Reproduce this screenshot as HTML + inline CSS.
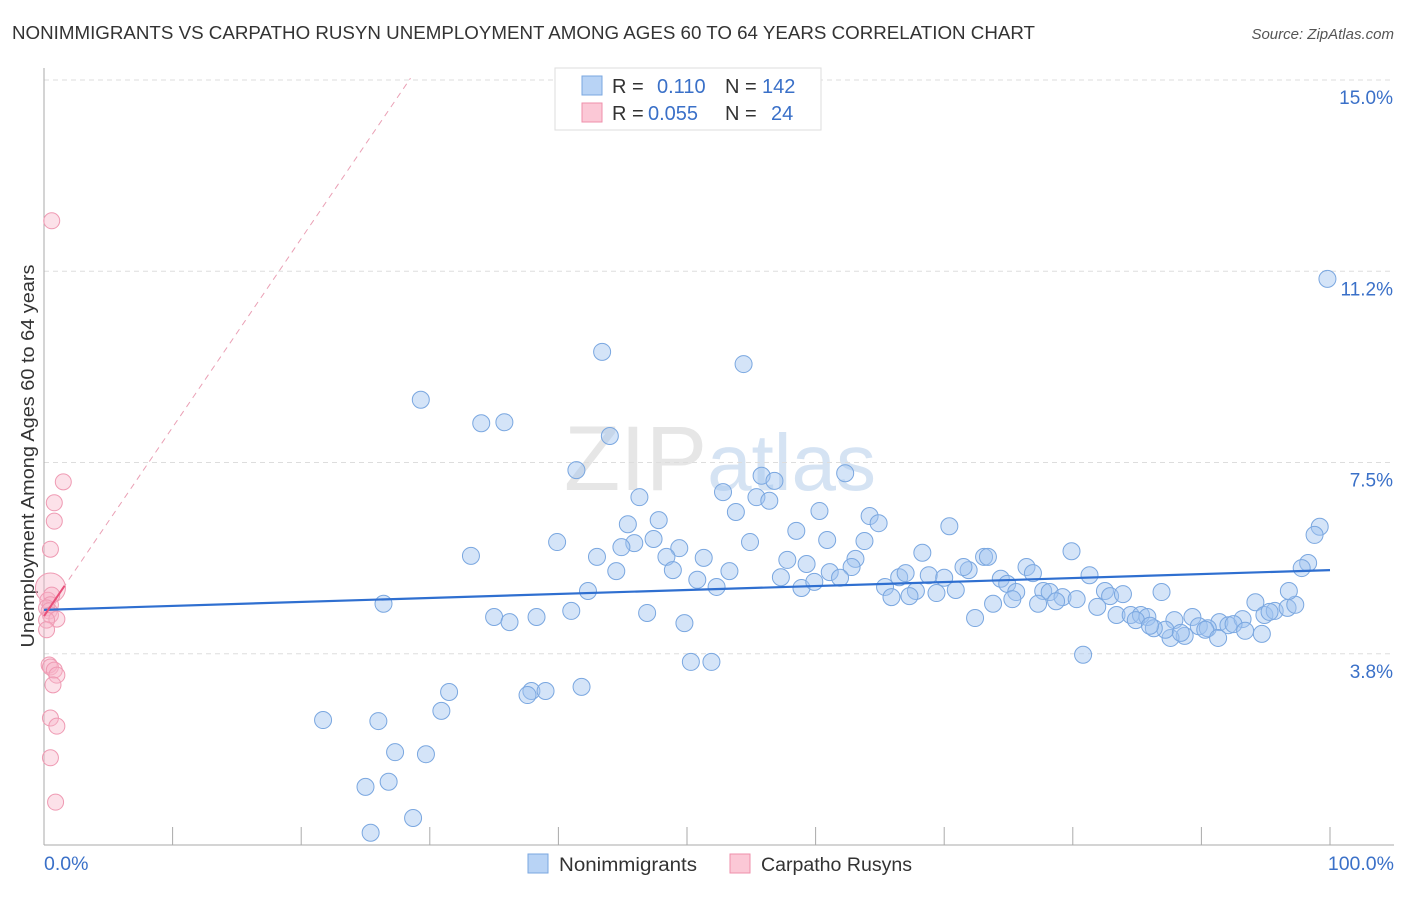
<!DOCTYPE html>
<html><head><meta charset="utf-8"><style>
body{margin:0;background:#fff;font-family:"Liberation Sans",sans-serif}
svg text{font-family:"Liberation Sans",sans-serif}
</style></head><body>
<svg id="chart" width="1406" height="892" xmlns="http://www.w3.org/2000/svg">
<text x="12" y="39" font-size="18.5" fill="#333" textLength="1023" lengthAdjust="spacingAndGlyphs">NONIMMIGRANTS VS CARPATHO RUSYN UNEMPLOYMENT AMONG AGES 60 TO 64 YEARS CORRELATION CHART</text>
<text x="1394" y="39" font-size="15" fill="#555" text-anchor="end" font-style="italic">Source: ZipAtlas.com</text>
<text transform="translate(34,456) rotate(-90)" font-size="18" fill="#333" text-anchor="middle" textLength="383" lengthAdjust="spacingAndGlyphs">Unemployment Among Ages 60 to 64 years</text>
<text x="720" y="490" font-size="92" fill="#e6e6e6" text-anchor="middle" font-family="Liberation Serif">ZIP<tspan fill="#d5e3f3" font-family="Liberation Sans" font-size="80">atlas</tspan></text>
<g id="grid"></g><g id="marks"></g>
<g>
<rect x="555" y="68" width="266" height="62" fill="#fff" stroke="#ddd"/>
<rect x="582" y="76" width="20" height="19" fill="#b8d3f5" stroke="#7aa7e0"/>
<rect x="582" y="103" width="20" height="19" fill="#fbc8d6" stroke="#ef8fab"/>
<text x="612" y="93" font-size="20" fill="#333">R = <tspan fill="#3a70c8" x="657">0.110</tspan><tspan fill="#333" x="725">N = </tspan><tspan fill="#3a70c8" x="762">142</tspan></text>
<text x="612" y="120" font-size="20" fill="#333">R = <tspan fill="#3a70c8" x="648">0.055</tspan><tspan fill="#333" x="725">N = </tspan><tspan fill="#3a70c8" x="771">24</tspan></text>
</g>
<g>
<rect x="528" y="854" width="20" height="19" fill="#b8d3f5" stroke="#7aa7e0"/>
<text x="559" y="871" font-size="19" fill="#333" textLength="138" lengthAdjust="spacingAndGlyphs">Nonimmigrants</text>
<rect x="730" y="854" width="20" height="19" fill="#fbc8d6" stroke="#ef8fab"/>
<text x="761" y="871" font-size="19" fill="#333" textLength="151" lengthAdjust="spacingAndGlyphs">Carpatho Rusyns</text>
</g>
</svg>
<script>
const blueX=[99.8,43.4,54.4,29.3,34.0,35.8,44.0,41.4,62.3,52.8,46.3,55.8,56.8,55.4,56.4,53.8,60.3,64.2,64.9,45.4,47.8,70.4,99.2,98.8,39.9,54.9,47.4,45.9,44.9,49.4,58.5,60.9,63.8,33.2,43.0,48.4,51.3,68.3,73.1,73.4,79.9,98.3,97.8,44.5,48.9,53.3,57.8,59.3,63.1,62.8,61.1,57.3,50.8,61.9,66.5,67.0,68.8,70.0,71.9,71.5,74.4,76.4,76.9,42.3,52.3,58.9,59.9,65.4,67.8,69.4,70.9,65.9,67.3,74.9,75.6,75.3,77.7,78.2,79.2,78.7,80.3,81.3,82.5,82.9,83.9,86.9,73.8,77.3,81.9,83.4,84.5,85.3,85.8,84.9,87.9,89.3,89.8,91.4,92.1,93.2,94.2,94.9,95.7,96.7,97.3,96.8,95.3,92.5,90.5,88.7,87.6,87.2,86.3,88.4,90.3,91.3,93.4,94.7,86.0,26.4,35.0,36.2,38.3,41.0,46.9,49.8,72.4,80.8,50.3,51.9,31.5,37.9,39.0,41.8,37.6,30.9,21.7,26.0,27.3,29.7,26.8,25.0,28.7,25.4];
const blueY=[11.10,9.67,9.43,8.73,8.27,8.29,8.02,7.35,7.29,6.92,6.82,7.24,7.14,6.82,6.75,6.53,6.55,6.45,6.31,6.29,6.37,6.25,6.24,6.08,5.94,5.94,6.00,5.92,5.84,5.82,6.16,5.98,5.96,5.67,5.65,5.65,5.63,5.73,5.65,5.65,5.76,5.53,5.43,5.37,5.39,5.37,5.59,5.51,5.61,5.45,5.35,5.25,5.20,5.24,5.25,5.33,5.29,5.24,5.39,5.45,5.22,5.45,5.33,4.98,5.06,5.04,5.16,5.06,4.98,4.94,5.00,4.86,4.88,5.12,4.96,4.82,4.98,4.96,4.86,4.78,4.82,5.29,4.98,4.88,4.92,4.96,4.73,4.73,4.67,4.51,4.51,4.51,4.47,4.41,4.41,4.47,4.29,4.37,4.31,4.43,4.76,4.51,4.59,4.65,4.71,4.98,4.57,4.33,4.25,4.10,4.06,4.22,4.25,4.16,4.22,4.06,4.20,4.14,4.30,4.73,4.47,4.37,4.47,4.59,4.55,4.35,4.45,3.73,3.59,3.59,3.00,3.02,3.02,3.10,2.94,2.63,2.45,2.43,1.82,1.78,1.24,1.14,0.53,0.24];
const pinkX=[0.6,1.5,0.8,0.8,0.5,0.5,0.3,0.6,0.5,0.2,0.4,0.5,1.0,0.2,0.2,0.4,0.5,0.8,1.0,0.7,0.5,1.0,0.5,0.9];
const pinkY=[12.24,7.12,6.71,6.35,5.80,5.04,4.80,4.90,4.71,4.65,4.59,4.51,4.43,4.41,4.22,3.53,3.49,3.43,3.33,3.14,2.49,2.33,1.71,0.84];
const pinkR=[8,8,8,8,8,15,8,8,8,8,8,8,8,8,8,8,8,8,8,8,8,8,8,8];
const yTicks=[15,11.25,7.5,3.75];
const yTickLabels=["15.0%","11.2%","7.5%","3.8%"];
const xTicks=[0,10,20,30,40,50,60,70,80,90,100];
const blueTrend=[4.61,5.39];
const pinkTrend=[4.49,0.37];
const X=v=>44+v*12.86, Y=v=>845-v*51.0;
const NS="http://www.w3.org/2000/svg";
function mk(t,a,p){const e=document.createElementNS(NS,t);for(const k in a)e.setAttribute(k,a[k]);p.appendChild(e);return e;}
const g=document.getElementById('grid'), m=document.getElementById('marks');
yTicks.forEach((t,i)=>{
 const l=mk('line',{x1:44,x2:1394,y1:Y(t),y2:Y(t),stroke:'#ddd','stroke-dasharray':'5,4'},g);
 
 
 const tx=mk('text',{x:1393,y:Y(t)+24,'font-size':19,fill:'#3a70c8','text-anchor':'end'},g);
 tx.textContent=yTickLabels[i];
 
 
});
const ax=mk('line',{x1:44,x2:44,y1:68,y2:845,stroke:'#aaa'},g);


const bx=mk('line',{x1:44,x2:1394,y1:845,y2:845,stroke:'#aaa'},g);


xTicks.forEach(t=>{const l=mk('line',{x1:X(t),x2:X(t),y1:827,y2:845,stroke:'#aaa'},g);
 
 });
[["0.0%",44,'start'],["100.0%",1394,'end']].forEach(d=>{const t=mk('text',{x:d[1],y:870,'font-size':19.5,fill:'#3a70c8','text-anchor':d[2]},g);t.textContent=d[0];
 
 });
blueX.forEach((x,i)=>{const c=mk('circle',{cx:X(x),cy:Y(blueY[i]),r:8.5,fill:'rgba(160,196,240,0.45)',stroke:'#7aa7e0','stroke-width':1},m);
 
 });
pinkX.forEach((x,i)=>{const c=mk('circle',{cx:X(x),cy:Y(pinkY[i]),r:pinkR[i],fill:'rgba(248,180,200,0.4)',stroke:'#ef9ab3','stroke-width':1},m);
 
 });
const bt=mk('line',{x1:X(0),y1:Y(blueTrend[0]),x2:X(100),y2:Y(blueTrend[1]),stroke:'#2f6fd0','stroke-width':2.2},m);


const pd=mk('line',{x1:X(0),y1:Y(pinkTrend[0]),x2:X(28.5),y2:Y(pinkTrend[0]+pinkTrend[1]*28.5),stroke:'#eaa0b5','stroke-width':1,'stroke-dasharray':'6,5'},m);


const ps=mk('line',{x1:X(0),y1:Y(pinkTrend[0]),x2:X(1.6),y2:Y(pinkTrend[0]+pinkTrend[1]*1.6),stroke:'#e8507a','stroke-width':2},m);


</script>
</body></html>
